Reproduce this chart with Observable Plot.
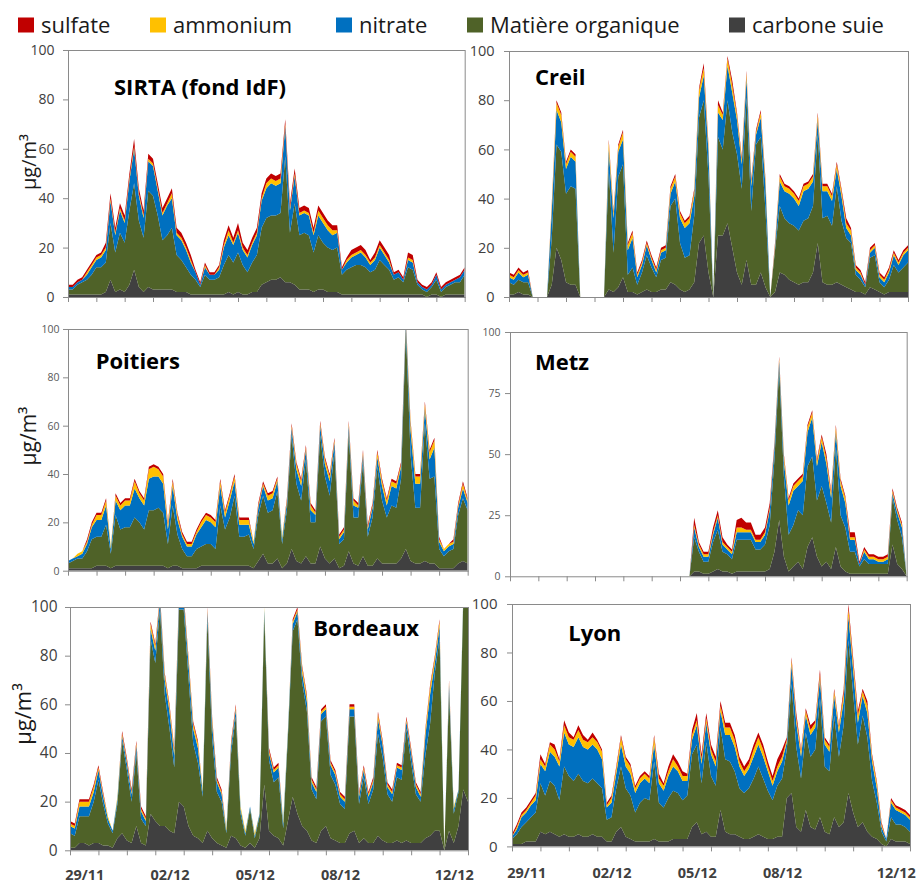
<!DOCTYPE html>
<html><head><meta charset="utf-8">
<script src="https://cdn.jsdelivr.net/npm/d3@7"></script>
<script src="https://cdn.jsdelivr.net/npm/@observablehq/plot@0.6"></script>
<style>
html,body{margin:0;padding:0;background:#fff;}
#root{position:relative;width:917px;height:882px;overflow:hidden;font-family:"Open Sans",sans-serif;}
#root svg{position:absolute;max-width:none;}
</style></head><body><div id="root"></div>
<script>
// ---- categories / labels ----
const components = ["carbone suie","Matière organique","nitrate","ammonium","sulfate"]; // bottom -> top
const colors = ["#404040","#4f6228","#0070c0","#ffc000","#c00000"];
const legendOrder = ["sulfate","ammonium","nitrate","Matière organique","carbone suie"];
const dayTicks = [0,1,2,3,4,5,6,7,8,9,10,11,12,13,14];
const dateTickPos = [0.5,3.5,6.5,9.5,13.5];
const dateTickLabels = ["29/11","02/12","05/12","08/12","12/12"];
const yTicks20 = [0,20,40,60,80,100];
const yTicks25 = [0,25,50,75,100];
const stepsPerDay = 6; // one value every 4 hours, 29/11 00h -> 13/12 00h
const unitLabel = "µg/m³";

// ---- SIRTA (fond IdF) ----
const sirta_bc  = [1,1,1,1,1,1,1,1,2,7, 2,3,2,5,11,4,2,4,3,3, 3,3,3,2,2,2,1,1,1,1, 1,1,1,1,2,1,2,1,1,2, 2,5,6,7,7,8,6,6,5,3, 3,3,2,3,3,2,2,2,1,1, 1,1,1,1,1,1,1,1,1,1, 1,1,1,1,1,1,0,1,1,0, 1,1,1,1,1];
const sirta_om  = [2,2,4,5,6,8,11,11,12,23, 16,23,20,30,35,27,22,39,38,30, 20,22,25,15,13,10,8,6,3,8, 6,6,7,12,15,13,16,12,9,12, 15,23,26,26,26,26,51,20,33,22, 23,22,16,22,19,18,17,18,8,10, 11,12,12,11,9,10,14,12,10,6, 7,5,11,10,4,2,2,3,6,2, 3,4,5,5,8];
const sirta_no3 = [1,1,1,1,2,3,3,4,5,9, 7,9,8,12,14,10,8,12,12,10, 10,12,12,8,8,7,5,3,1,3, 2,2,3,7,8,7,8,6,6,7, 8,11,12,13,12,12,12,9,11,8, 8,8,7,8,8,7,6,6,2,3, 4,4,5,4,3,4,5,4,3,2, 2,1,3,3,1,1,1,1,2,1, 1,1,1,2,2];
const sirta_nh4 = [0,0,0,0,1,1,1,1,1,1, 1,1,1,1,1,1,1,1,1,1, 1,1,2,1,1,1,1,0,0,1, 0,0,1,1,2,1,1,1,1,1, 1,1,2,2,2,2,1,1,1,1, 1,1,1,2,2,2,2,1,0,1, 1,1,1,1,1,1,1,1,1,0, 0,0,1,1,0,0,0,0,0,0, 0,0,0,0,0];
const sirta_so4 = [1,1,1,1,1,1,1,1,2,2, 2,2,2,2,3,2,2,2,2,2, 2,2,2,2,2,2,2,1,1,1, 1,1,1,2,2,2,3,2,2,2, 2,2,2,2,2,2,2,2,2,2, 2,2,2,2,2,2,2,2,1,1, 2,2,2,2,1,2,2,2,2,1, 1,1,2,2,1,1,1,1,1,1, 1,1,1,1,1];

// ---- Creil ----
const creil_bc  = [1,1,2,1,1,0,0,0,0,5, 20,15,6,5,5,0,0,0,0,0, 0,3,2,4,8,2,2,1,2,3, 2,2,3,3,6,5,3,2,3,6, 22,25,10,0,25,25,30,20,10,5, 15,5,5,10,4,0,2,10,9,7, 6,5,6,6,10,22,6,5,5,6, 5,4,3,2,2,1,4,3,2,1, 2,2,2,2,2];
const creil_om  = [5,4,5,5,5,0,0,0,0,19, 42,44,36,40,39,0,0,0,0,0, 0,49,16,45,46,7,10,4,8,14, 10,6,12,13,31,35,19,14,14,27, 51,55,39,0,40,35,50,47,48,39, 66,30,57,55,31,0,17,27,23,23, 23,22,25,26,27,44,26,28,24,39, 26,20,19,7,5,3,12,14,4,3, 5,11,8,10,12];
const creil_no3 = [2,2,3,2,3,0,0,0,0,11, 14,12,10,12,11,0,0,0,0,0, 0,8,14,10,10,10,12,3,3,4, 3,2,3,3,5,7,10,12,13,8, 8,10,10,0,10,12,14,16,14,10, 8,10,4,8,10,0,1,10,11,12, 11,10,12,12,10,6,11,10,10,7, 10,4,3,2,2,1,2,3,2,2, 3,4,3,5,5];
const creil_nh4 = [1,1,1,1,1,0,0,0,0,2, 3,3,2,2,2,0,0,0,0,0, 0,3,2,2,3,2,2,1,1,1, 1,1,1,1,2,2,2,2,2,2, 3,3,2,0,3,2,3,3,2,2, 2,2,1,2,2,0,1,2,2,2, 2,2,2,2,2,2,2,2,2,2, 2,2,2,1,1,0,1,1,1,1, 1,1,1,1,1];
const creil_so4 = [1,1,1,1,1,0,0,0,0,1, 1,1,1,1,1,0,0,0,0,0, 0,1,1,1,1,1,1,1,1,1, 1,1,1,1,1,1,1,1,1,1, 1,2,1,0,2,1,1,2,1,1, 1,1,1,1,1,0,1,1,1,1, 1,1,1,1,1,1,1,1,1,1, 1,2,1,1,1,1,1,1,1,1, 1,1,1,1,1];

// ---- Poitiers ----
const poitiers_bc  = [1,1,1,1,1,1,2,2,2,1, 2,2,2,2,2,2,2,2,2,2, 2,1,2,2,1,1,1,1,2,2, 2,2,2,2,2,2,2,2,2,1, 4,7,3,3,5,1,3,9,4,3, 6,3,3,10,5,3,5,1,2,8, 3,2,6,2,2,5,3,3,3,3, 5,9,4,3,3,4,3,3,1,1, 1,1,3,4,3];
const poitiers_om  = [2,3,4,4,7,12,12,12,17,6, 21,15,16,16,20,18,15,23,23,24, 22,10,25,13,8,5,5,8,8,9, 9,7,25,15,20,29,12,12,13,8, 19,24,21,22,28,10,22,47,32,26, 40,17,17,46,34,28,44,10,11,49, 19,20,39,12,20,38,26,19,24,23, 33,91,44,23,23,57,35,36,8,5, 7,8,20,26,22];
const poitiers_no3 = [1,1,1,2,3,5,7,7,8,2, 6,8,9,9,12,10,10,13,14,13, 12,6,8,6,5,4,4,6,8,10, 9,9,8,5,7,6,5,5,4,2, 3,4,5,5,4,2,3,3,6,6, 4,5,3,4,5,6,4,2,3,3, 5,4,3,3,4,4,6,5,8,8, 5,3,10,10,10,6,8,12,3,2, 2,2,3,4,3];
const poitiers_nh4 = [0,0,1,1,1,1,2,2,2,1, 2,2,2,2,3,2,2,4,4,3, 3,2,2,2,1,1,1,1,2,2, 2,2,2,2,2,2,2,2,2,1, 1,1,2,2,1,1,1,1,2,2, 1,2,1,1,2,2,1,1,1,1, 2,1,1,1,1,2,2,2,2,2, 1,1,3,3,3,2,3,3,1,1, 1,1,1,2,1];
const poitiers_so4 = [0,0,0,0,1,1,1,1,1,0, 1,1,1,1,1,1,1,1,1,1, 1,1,1,1,1,1,1,1,1,1, 1,1,1,1,1,1,1,1,1,0, 1,1,1,1,1,0,1,1,1,1, 1,1,1,1,1,1,1,1,1,1, 1,1,1,1,1,1,1,1,1,1, 1,1,1,1,1,1,1,1,1,0, 0,1,1,1,1];

// ---- Metz (no data before 05/12) ----
const metz_bc  = [0,0,0,0,0,0,0,0,0,0, 0,0,0,0,0,0,0,0,0,0, 0,0,0,0,0,0,0,0,0,0, 0,0,0,0,0,0,0,0,0,2, 2,1,1,2,3,2,2,1,2,2, 2,2,2,2,2,3,10,23,8,2, 4,6,3,12,16,8,4,6,3,12, 4,2,1,1,1,1,1,1,1,1, 1,13,5,3,0];
const metz_om  = [0,0,0,0,0,0,0,0,0,0, 0,0,0,0,0,0,0,0,0,0, 0,0,0,0,0,0,0,0,0,0, 0,0,0,0,0,0,0,0,0,14, 8,5,5,12,16,8,7,6,13,13, 13,13,9,9,11,18,38,62,33,15, 17,21,22,33,33,23,33,24,19,41, 21,18,9,9,3,6,4,4,4,4, 4,19,18,13,0];
const metz_no3 = [0,0,0,0,0,0,0,0,0,0, 0,0,0,0,0,0,0,0,0,0, 0,0,0,0,0,0,0,0,0,0, 0,0,0,0,0,0,0,0,0,4, 2,2,2,3,5,3,2,2,3,3, 3,3,3,3,4,6,5,3,6,12, 14,10,14,14,16,14,18,16,10,6, 12,10,5,5,1,3,2,2,1,1, 2,2,3,4,0];
const metz_nh4 = [0,0,0,0,0,0,0,0,0,0, 0,0,0,0,0,0,0,0,0,0, 0,0,0,0,0,0,0,0,0,0, 0,0,0,0,0,0,0,0,0,1, 1,1,1,1,1,1,1,1,2,2, 1,1,1,1,1,1,1,1,2,2, 2,2,2,2,2,2,2,2,2,2, 2,2,1,1,0,1,1,1,1,1, 1,1,1,1,0];
const metz_so4 = [0,0,0,0,0,0,0,0,0,0, 0,0,0,0,0,0,0,0,0,0, 0,0,0,0,0,0,0,0,0,0, 0,0,0,0,0,0,0,0,0,3, 1,1,1,2,2,2,1,1,3,4, 3,3,2,2,2,2,1,1,1,1, 1,1,1,1,1,1,1,2,1,1, 1,1,2,2,1,1,1,1,1,1, 1,1,1,1,0];

// ---- Bordeaux ----
const bordeaux_bc  = [1,1,3,3,2,3,3,2,2,1, 5,7,4,3,10,3,2,15,12,10, 10,8,7,20,18,10,6,5,3,8, 5,3,2,1,6,5,2,1,3,1, 5,27,8,6,5,2,12,22,15,10, 8,4,3,8,10,5,4,3,3,7, 8,3,5,3,3,6,4,3,3,4, 3,4,3,3,3,5,6,8,8,0, 8,3,10,25,20];
const bordeaux_om  = [6,5,11,11,12,17,26,17,9,6, 14,38,29,17,30,10,8,72,65,89, 54,42,27,79,81,61,38,31,19,87, 41,21,18,6,34,50,13,5,14,4, 9,70,29,22,25,7,35,68,80,59, 49,21,18,45,45,26,23,16,14,48, 47,16,25,16,22,42,34,20,17,26, 26,46,33,20,17,34,46,65,79,0, 57,12,14,77,82];
const bordeaux_no3 = [3,3,4,4,4,4,4,3,2,1, 2,2,3,3,3,3,2,4,5,4, 6,7,5,4,4,6,6,6,2,3, 6,4,3,1,3,3,2,1,1,1, 1,2,3,4,4,2,2,3,3,4, 4,3,3,3,3,4,4,3,3,3, 3,3,3,3,3,6,5,3,3,4, 4,3,4,3,2,8,12,4,5,0, 3,2,1,2,2];
const bordeaux_nh4 = [1,1,2,2,2,2,1,1,1,0, 1,1,1,1,1,1,1,2,2,1, 2,2,2,1,1,2,2,2,1,1, 2,1,1,1,1,1,1,1,0,1, 0,1,1,1,1,1,1,1,1,2, 2,1,1,1,1,1,1,1,1,1, 1,1,1,1,1,2,1,1,1,1, 1,1,1,1,1,2,3,2,2,0, 1,1,0,1,1];
const bordeaux_so4 = [1,1,1,1,1,1,1,1,0,0, 0,1,1,1,1,1,1,1,1,1, 1,1,1,1,1,1,1,1,0,1, 1,1,1,0,1,1,0,0,0,0, 0,0,1,1,1,0,0,1,1,1, 1,1,1,1,1,1,1,1,1,1, 1,1,1,1,1,1,1,1,1,1, 1,1,1,1,1,1,1,1,1,0, 1,0,0,0,0];

// ---- Lyon ----
const lyon_bc  = [1,1,1,2,2,2,6,5,6,5, 4,5,4,4,5,4,4,5,4,4, 2,2,6,8,4,3,2,2,2,2, 3,2,2,2,3,3,3,3,8,10, 5,6,4,4,15,6,5,5,4,3, 3,4,5,4,3,3,4,4,20,22, 8,6,15,8,7,12,6,5,12,8, 10,22,14,8,10,6,4,3,1,0, 3,2,2,2,1];
const lyon_om  = [2,4,7,8,10,12,20,16,21,20, 15,28,25,23,25,23,22,23,22,20, 9,10,18,25,20,18,12,16,18,17, 32,16,14,18,20,19,16,18,30,32, 21,37,25,21,34,30,30,26,20,19, 21,24,28,24,20,16,21,24,20,45, 33,22,32,29,33,49,27,26,42,29, 40,63,49,34,44,39,23,15,5,2, 9,7,7,6,5];
const lyon_no3 = [1,2,4,4,5,5,8,10,12,12, 14,14,13,14,15,14,14,14,14,12, 5,6,6,9,9,9,8,8,8,7, 7,8,7,9,10,9,8,6,6,8, 8,8,9,8,7,10,11,10,9,7, 8,9,9,9,8,6,6,7,3,8, 10,9,7,9,9,8,9,8,8,10, 10,10,10,9,8,10,8,6,2,1, 6,6,5,5,5];
const lyon_nh4 = [0,1,1,1,1,2,2,2,3,3, 2,3,3,3,3,3,3,3,3,3, 1,2,2,3,3,3,2,2,2,2, 3,2,2,2,3,2,2,2,2,2, 2,2,2,2,2,3,3,3,2,2, 2,3,3,3,2,2,2,2,1,2, 2,2,2,2,2,2,2,2,2,2, 3,3,3,3,2,3,2,2,1,0, 1,1,1,1,1];
const lyon_so4 = [1,1,1,1,1,1,2,1,1,2, 1,2,2,1,2,2,1,2,1,1, 1,1,1,1,1,1,1,1,1,1, 1,2,1,2,2,2,2,1,2,3, 2,2,2,2,2,2,2,2,2,2, 2,2,2,2,2,2,3,3,1,1, 2,1,1,2,1,2,1,1,1,1, 2,2,2,2,1,2,1,1,1,0, 1,1,1,1,1];

// ---- layout (reference pixel positions) ----
const panels = [
  {title:"SIRTA (fond IdF)", series:[sirta_bc,sirta_om,sirta_no3,sirta_nh4,sirta_so4],
   L:68.3,T:50,R:465,B:297, yTicks:yTicks20, fs:14, fc:"#404040", pad:9, xlab:false,
   tx:114, ty:95, ylab:{x:35.5,y:162,fs:20}},
  {title:"Creil", series:[creil_bc,creil_om,creil_no3,creil_nh4,creil_so4],
   L:509.3,T:51,R:908.3,B:297, yTicks:yTicks20, fs:14.5, fc:"#404040", pad:10, xlab:false,
   tx:535, ty:85},
  {title:"Poitiers", series:[poitiers_bc,poitiers_om,poitiers_no3,poitiers_nh4,poitiers_so4],
   L:68.3,T:329.3,R:468,B:571, yTicks:yTicks20, fs:10.5, fc:"#595959", pad:4, xlab:false,
   tx:95.7, ty:369.3, ylab:{x:35.5,y:436,fs:21}},
  {title:"Metz", series:[metz_bc,metz_om,metz_no3,metz_nh4,metz_so4],
   L:510,T:331.7,R:906.7,B:576, yTicks:yTicks25, fs:10.5, fc:"#595959", pad:5, xlab:false,
   tx:535, ty:370},
  {title:"Bordeaux", series:[bordeaux_bc,bordeaux_om,bordeaux_no3,bordeaux_nh4,bordeaux_so4],
   L:70,T:606.7,R:468,B:850, yTicks:yTicks20, fs:15.5, fc:"#404040", pad:8, xlab:true, xpad:18.7,
   tx:313.3, ty:635.7, ylab:{x:31,y:714,fs:22}},
  {title:"Lyon", series:[lyon_bc,lyon_om,lyon_no3,lyon_nh4,lyon_so4],
   L:512,T:604.3,R:910,B:846.7, yTicks:yTicks20, fs:15, fc:"#404040", pad:10, xlab:true, xpad:21.3,
   tx:568.3, ty:640.7}
];

const root = document.getElementById("root");
const ML = 62, MR = 8, MT = 10, MB = 36;
const axisGray = "#8a8a8a";
const dateLabelOf = new Map(dateTickPos.map((p, i) => [p, dateTickLabels[i]]));

function toRows(series) {
  const out = [];
  series.forEach((arr, k) => arr.forEach((v, i) => out.push({t: i / stepsPerDay, c: components[k], v})));
  return out;
}

for (const p of panels) {
  const marks = [
    Plot.areaY(toRows(p.series), {x: "t", y: "v", z: "c", fill: "c", order: components, clip: true}),
    Plot.frame({stroke: axisGray}),
    Plot.axisY(p.yTicks, {tickSize: 5, tickPadding: p.pad, fontSize: p.fs, fill: p.fc, stroke: axisGray, label: null, tickFormat: d => String(d)}),
    Plot.axisX(dayTicks, {tickSize: 5, stroke: axisGray, tickFormat: () => "", label: null})
  ];
  if (p.xlab) {
    marks.push(Plot.axisX(dateTickPos, {tickSize: 0, tickPadding: p.xpad, tickFormat: d => dateLabelOf.get(d),
      fontSize: 14.5, fontWeight: "bold", fill: "#404040", label: null}));
  }
  const chart = Plot.plot({
    width: (p.R - p.L) + ML + MR,
    height: (p.B - p.T) + MT + MB,
    marginLeft: ML, marginRight: MR, marginTop: MT, marginBottom: MB,
    x: {domain: [0, 14]},
    y: {domain: [0, 100]},
    color: {type: "ordinal", domain: components, range: colors},
    style: {fontFamily: "'Open Sans', sans-serif", background: "transparent", overflow: "visible"},
    marks
  });
  chart.style.left = (p.L - ML) + "px";
  chart.style.top = (p.T - MT) + "px";
  root.appendChild(chart);
}

// ---- overlay: legend, panel titles, unit labels ----
const ov = d3.create("svg").attr("width", 917).attr("height", 882)
  .style("left", "0px").style("top", "0px").style("pointer-events", "none")
  .style("font-family", "'Open Sans', sans-serif");
const legendX = [18, 150, 336, 467, 729];
legendOrder.forEach((name, i) => {
  const col = colors[components.indexOf(name)];
  ov.append("rect").attr("x", legendX[i]).attr("y", 17.5).attr("width", 16).attr("height", 15).attr("fill", col);
  ov.append("text").attr("x", legendX[i] + 23).attr("y", 33).attr("font-size", 22).attr("fill", "#1a1a1a").text(name);
});
for (const p of panels) {
  ov.append("text").attr("x", p.tx).attr("y", p.ty).attr("font-size", 22).attr("font-weight", "bold")
    .attr("fill", "#000").text(p.title);
  if (p.ylab) {
    ov.append("text").attr("transform", `translate(${p.ylab.x},${p.ylab.y}) rotate(-90)`)
      .attr("text-anchor", "middle").attr("font-size", p.ylab.fs).attr("fill", "#1a1a1a").text(unitLabel);
  }
}
root.appendChild(ov.node());
</script>
</body></html>
